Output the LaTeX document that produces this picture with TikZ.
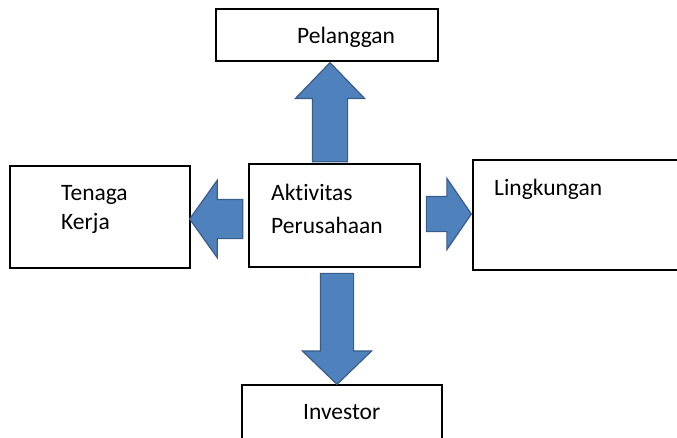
\documentclass[tikz,border=0pt]{standalone}
\usepackage{fontspec}
\setmainfont{Carlito}[Ligatures=NoCommon]
\usetikzlibrary{shapes.arrows,calc}

\definecolor{arrowblue}{HTML}{4F81BD}
\definecolor{arrowline}{HTML}{385D8A}

\begin{document}
\begin{tikzpicture}[
    x=1pt, y=-1pt,
    box/.style={draw=black, line width=1.5pt, rectangle, inner sep=0pt},
    txt/.style={inner sep=0pt, align=left, font=\fontsize{23.5pt}{33pt}\selectfont},
    blockarrow/.style={single arrow, draw=arrowline, fill=arrowblue, line width=1.2pt,
        inner xsep=0pt, single arrow head extend=17pt, anchor=tail}
]
\clip (0,0) rectangle (677,437);

% boxes
\node[box, minimum width=222pt, minimum height=52pt] (pelanggan) at (327,35) {};
\node[box, minimum width=171pt, minimum height=103pt] (aktivitas) at (334.5,215.5) {};
\node[box, minimum width=180pt, minimum height=102pt] (tenaga) at (100,217) {};
\node[box, minimum width=240pt, minimum height=110pt] (lingkungan) at (593,215) {};
\node[box, minimum width=200pt, minimum height=75pt] (investor) at (342,422.5) {};

% texts
\node[txt, anchor=base west] (pelangganText) at (297,43) {Pelanggan};
\node[txt, anchor=base west] (aktivitasText) at (271,233) {Aktivitas\\Perusahaan};
\node[txt, anchor=base west] (tenagaText) at (61,229) {Tenaga\\[-4pt]Kerja};
\node[txt, anchor=base west] (lingkunganText) at (494,195) {Lingkungan};
\node[txt, anchor=base west] (investorText) at (303,419) {Investor};

% block arrows
\node[blockarrow, rotate=90, inner ysep=17pt, minimum height=99pt,
    single arrow tip angle=88] (toPelanggan)
    at ($(aktivitas.north)+(-4.5,-1)$) {};
\node[blockarrow, rotate=-90, inner ysep=16pt, single arrow head extend=18pt,
    minimum height=111pt, single arrow tip angle=92] (toInvestor)
    at ($(aktivitas.south)+(2.5,5)$) {};
\node[blockarrow, rotate=180, inner ysep=19pt, single arrow head extend=19pt,
    minimum height=53pt, single arrow tip angle=109] (toTenaga)
    at ($(aktivitas.west)+(-5,3.5)$) {};
\node[blockarrow, inner ysep=17pt, single arrow head extend=18pt,
    minimum height=45pt, single arrow tip angle=111] (toLingkungan)
    at ($(aktivitas.east)+(5,-1.5)$) {};

\end{tikzpicture}
\end{document}
